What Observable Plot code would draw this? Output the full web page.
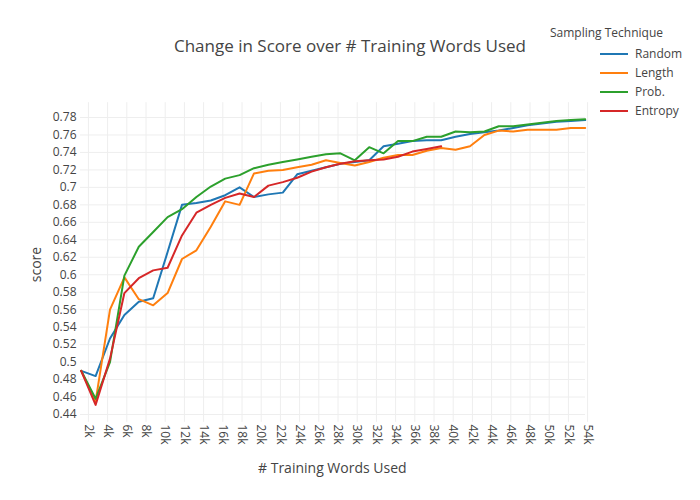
<!DOCTYPE html>
<html><head><meta charset="utf-8">
<script src="https://cdn.jsdelivr.net/npm/d3@7"></script>
<script src="https://cdn.jsdelivr.net/npm/@observablehq/plot@0.6"></script>
<style>
body{margin:0;background:#fff;font-family:"Open Sans",sans-serif;color:#444}
#wrap{position:relative;width:700px;height:500px}
.t{position:absolute;white-space:nowrap}
</style></head><body>
<div id="wrap"></div>
<script>
const words = [1250,2750,4250,5750,7250,8750,10250,11750,13250,14750,16250,17750,19250,20750,22250,23750,25250,26750,28250,29750,31250,32750,34250,35750,37250,38750,40250,41750,43250,44750,46250,47750,49250,50750,52250,53750];
const random = [0.490,0.484,0.527,0.554,0.569,0.573,0.626,0.680,0.682,0.685,0.691,0.700,0.689,0.692,0.694,0.715,0.719,0.723,0.727,0.729,0.731,0.747,0.750,0.753,0.754,0.754,0.758,0.761,0.763,0.765,0.768,0.771,0.773,0.775,0.776,0.777];
const lengthS = [0.490,0.455,0.560,0.597,0.572,0.565,0.579,0.618,0.628,0.655,0.684,0.680,0.716,0.719,0.720,0.723,0.726,0.731,0.728,0.725,0.729,0.734,0.737,0.737,0.742,0.745,0.743,0.747,0.760,0.765,0.764,0.766,0.766,0.766,0.768,0.768];
const prob = [0.490,0.458,0.500,0.599,0.632,0.649,0.666,0.675,0.689,0.701,0.710,0.714,0.722,0.726,0.729,0.732,0.735,0.738,0.739,0.731,0.746,0.739,0.753,0.753,0.758,0.758,0.764,0.763,0.764,0.770,0.770,0.772,0.774,0.776,0.777,0.778];
const entropy = [0.490,0.451,0.504,0.579,0.596,0.605,0.608,0.645,0.671,0.680,0.688,0.693,0.689,0.702,0.706,0.711,0.718,0.723,0.727,0.730,0.731,0.732,0.735,0.741,0.744,0.747];
const seriesNames = ["Random","Length","Prob.","Entropy"];
const colors = ["#1f77b4","#ff7f0e","#2ca02c","#d62728"];
const yTicks = [0.44,0.46,0.48,0.5,0.52,0.54,0.56,0.58,0.6,0.62,0.64,0.66,0.68,0.7,0.72,0.74,0.76,0.78];
const xTicks = d3.range(2000,54001,2000);

const all = [random,lengthS,prob,entropy];
const rows = [];
all.forEach((arr,k)=>arr.forEach((v,i)=>rows.push({x:words[i],y:v,s:seriesNames[k]})));

const chart = Plot.plot({
  width:700,height:500,marginLeft:80,marginRight:115,marginTop:100,marginBottom:80,
  style:{fontFamily:"Open Sans",fontSize:"12px",color:"#444"},
  x:{domain:[1250,53750],range:[80.7,584.7]},
  y:{domain:[0.44,0.78],range:[414,117]},
  color:{domain:seriesNames,range:colors},
  marks:[
    Plot.ruleX(xTicks,{x:d=>d,y1:0.431,y2:0.797,stroke:"#eee"}),
    Plot.ruleY(yTicks,{y:d=>d,stroke:"#eee"}),
    Plot.axisY({ticks:yTicks,tickSize:0,tickPadding:4,tickFormat:d=>String(+d.toFixed(2)),label:null,fontSize:12}),
    Plot.axisX({ticks:xTicks,tickSize:0,tickRotate:90,tickPadding:4,tickFormat:d=>d/1000+"k",label:null,fontSize:12}),
    Plot.line(rows,{x:"x",y:"y",z:"s",stroke:"s",strokeWidth:2})
  ]
});
const wrap=document.getElementById("wrap");
chart.style.position="absolute";chart.style.left="0";chart.style.top="0";
wrap.appendChild(chart);
function add(txt,css){const d=document.createElement("div");d.className="t";d.textContent=txt;d.style.cssText+=css;wrap.appendChild(d);return d;}
add("Change in Score over # Training Words Used","left:0;width:700px;text-align:center;top:34px;font-size:17px;");
add("# Training Words Used","left:258px;top:458px;font-size:14px;");
const st=add("score","left:18px;top:255px;font-size:14px;transform:rotate(-90deg);");
add("Sampling Technique","left:550px;top:24px;font-size:12px;");
seriesNames.forEach((n,i)=>{
  const y=54+i*19;
  const l=document.createElement("div");l.className="t";
  l.style.cssText=`left:600px;top:${y-1}px;width:28px;height:2px;background:${colors[i]}`;
  wrap.appendChild(l);
  add(n,`left:635px;top:${y-9}px;font-size:12px;`);
});
</script></body></html>
